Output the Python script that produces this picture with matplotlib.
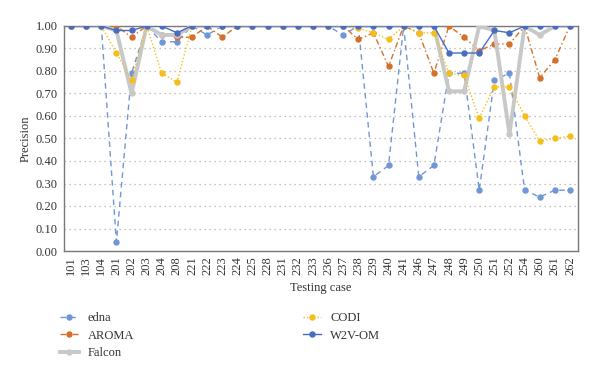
import matplotlib
matplotlib.use("Agg")
import matplotlib.pyplot as plt

cases = ["101","103","104","201","202","203","204","208","221","222","223","224","225","228",
         "231","232","233","236","237","238","239","240","241","246","247","248","249","250",
         "251","252","254","260","261","262"]

edna = [1.00,1.00,1.00,0.04,0.79,1.00,0.93,0.93,1.00,0.96,1.00,1.00,1.00,1.00,
        1.00,1.00,1.00,1.00,0.96,1.00,0.33,0.38,1.00,0.33,0.38,0.79,0.79,0.27,
        0.76,0.79,0.27,0.24,0.27,0.27]
aroma = [1.00,1.00,1.00,1.00,0.95,1.00,0.96,0.95,0.95,1.00,0.95,1.00,1.00,1.00,
         1.00,1.00,1.00,1.00,1.00,0.94,0.97,0.82,1.00,0.97,0.79,1.00,0.95,0.89,
         0.92,0.92,1.00,0.77,0.85,1.00]
falcon = [1.00,1.00,1.00,0.98,0.70,1.00,0.96,0.96,1.00,1.00,1.00,1.00,1.00,1.00,
          1.00,1.00,1.00,1.00,1.00,1.00,1.00,1.00,1.00,1.00,1.00,0.71,0.71,1.00,
          0.98,0.52,1.00,0.96,1.00,1.00]
codi = [1.00,1.00,1.00,0.88,0.76,1.00,0.79,0.75,1.00,1.00,1.00,1.00,1.00,1.00,
        1.00,1.00,1.00,1.00,1.00,0.99,0.97,0.94,1.00,0.97,0.97,0.79,0.78,0.59,
        0.73,0.73,0.60,0.49,0.50,0.51]
w2v = [1.00,1.00,1.00,0.98,0.98,1.00,1.00,0.97,1.00,1.00,1.00,1.00,1.00,1.00,
       1.00,1.00,1.00,1.00,1.00,1.00,1.00,1.00,1.00,1.00,1.00,0.88,0.88,0.88,
       0.98,0.97,1.00,1.00,1.00,1.00]

yticks = [0.0,0.1,0.2,0.3,0.4,0.5,0.6,0.7,0.8,0.9,1.0]

plt.rcParams['font.family'] = ['Liberation Serif', 'DejaVu Serif']

fig = plt.figure(figsize=(6.0, 3.77), dpi=100)
ax = fig.add_axes([63.5/600, 1-251/377, (577.5-63.5)/600, (251-26)/377])

x = list(range(len(cases)))
ms = 3.6
ax.plot(x, edna, color='#7096d8', lw=1.0, ls=(0,(4,3)), marker='o', ms=ms, label='edna', zorder=3)
ax.plot(x, aroma, color='#d4702a', lw=1.0, ls=(0,(4,2,1,2)), marker='o', ms=ms, label='AROMA', zorder=3)
ax.plot(x, falcon, color='#c8c8c8', lw=2.8, ls='-', marker='o', ms=ms, label='Falcon', zorder=3)
ax.plot(x, codi, color='#f4bf1c', lw=1.0, ls=(0,(1,1.5)), marker='o', ms=ms, label='CODI', zorder=3)
ax.plot(x, w2v, color='#4a6cc0', lw=1.0, ls='-', marker='o', ms=ms, label='W2V-OM', zorder=4)

ax.set_xlim(-0.5, len(cases)-0.5)
ax.set_ylim(0, 1.0)
ax.set_xticks(x)
ax.set_xticklabels(cases, rotation=90, fontsize=9, color='#333333')
ax.set_yticks(yticks)
ax.set_yticklabels(["%.2f" % v for v in yticks], fontsize=9, color='#333333')
ax.tick_params(axis='both', length=0, pad=4)
ax.yaxis.grid(True, ls=(0,(1,3)), color='#b0b0b0', lw=0.9)
ax.set_axisbelow(True)
for s in ax.spines.values():
    s.set_color('#7a7a7a')
    s.set_linewidth(1.0)

ax.set_ylabel('Precision', fontsize=9, color='#333333', labelpad=3)
ax.set_xlabel('Testing case', fontsize=9, color='#333333', labelpad=5)

fig.legend(loc='upper left', bbox_to_anchor=(60/600, 1-312/377), ncol=2, frameon=False,
           fontsize=9, handlelength=1.5, handletextpad=0.7, columnspacing=13.5,
           labelspacing=0.45, borderpad=0, borderaxespad=0, labelcolor='#333333')

fig.savefig('out.png', dpi=100)
